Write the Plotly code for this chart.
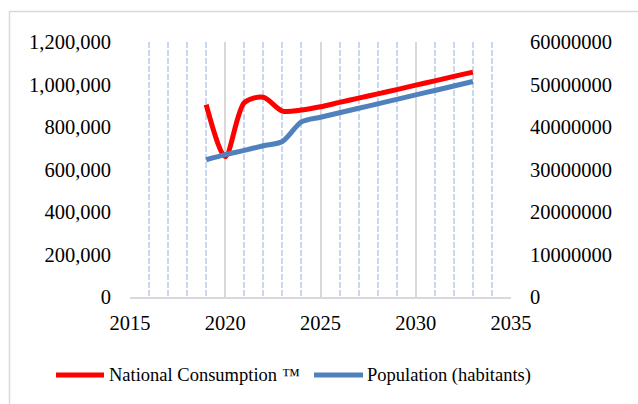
import plotly.graph_objects as go

years = [2019, 2020, 2021, 2022, 2023, 2024, 2025, 2026, 2027, 2028, 2029, 2030, 2031, 2032, 2033]
consumption = [905000, 660000, 915000, 940000, 875000, 880000, 895000, 916000, 936000,
               956000, 976000, 997000, 1017000, 1038000, 1058000]
population = [32300000, 33500000, 34500000, 35600000, 36600000, 41200000, 42300000, 43350000,
              44400000, 45450000, 46500000, 47550000, 48600000, 49650000, 50700000]

left_ticks = [0, 200000, 400000, 600000, 800000, 1000000, 1200000]
left_labels = ["0", "200,000", "400,000", "600,000", "800,000", "1,000,000", "1,200,000"]
right_ticks = [0, 10000000, 20000000, 30000000, 40000000, 50000000, 60000000]
right_labels = [str(v) for v in right_ticks]
x_ticks = [2015, 2020, 2025, 2030, 2035]

series_names = ["National Consumption ™", "Population (habitants)"]
series_colors = ["#ff0000", "#4f81bd"]

FONT = "Liberation Serif"
FS = 20.5
LEG_FS = 18.5

fig = go.Figure()
fig.add_trace(go.Scatter(x=years, y=consumption, name=series_names[0],
                         mode="lines", line=dict(color=series_colors[0], width=5, shape="spline", smoothing=0.8),
                         yaxis="y"))
fig.add_trace(go.Scatter(x=years, y=population, name=series_names[1],
                         mode="lines", line=dict(color=series_colors[1], width=5, shape="spline", smoothing=0.8),
                         yaxis="y2"))

L, R, T, B = 130, 511, 42, 297
W, H = 638, 404

def px(x):
    return (x - L) / (R - L)

def py(y):
    return (B - y) / (B - T)

# manual legend (line samples + text) laid out in pixel positions
legend_items = [(56, 104, 107), (314, 363, 365)]
LEG_Y = 375
shapes = [
    dict(type="line", xref="paper", yref="paper", x0=px(9.5), x1=px(9.5), y0=py(11), y1=py(410),
         line=dict(color="#d9d9d9", width=1.5)),
    dict(type="line", xref="paper", yref="paper", x0=px(9.5), x1=px(645), y0=py(11.5), y1=py(11.5),
         line=dict(color="#d9d9d9", width=1.5)),
]
annotations = []
for (x0, x1, tx), name, color in zip(legend_items, series_names, series_colors):
    shapes.append(dict(type="line", xref="paper", yref="paper", x0=px(x0), x1=px(x1),
                       y0=py(LEG_Y), y1=py(LEG_Y), line=dict(color=color, width=5)))
    annotations.append(dict(xref="paper", yref="paper", x=px(tx), y=py(LEG_Y), text=name,
                            showarrow=False, xanchor="left", yanchor="middle",
                            font=dict(family=FONT, size=LEG_FS, color="#000000")))

fig.update_layout(
    width=W, height=H,
    margin=dict(l=L, r=W - R, t=T, b=H - B, autoexpand=False),
    paper_bgcolor="white", plot_bgcolor="white",
    font=dict(family=FONT, size=FS, color="#000000"),
    showlegend=False,
    xaxis=dict(range=[2015, 2035], tickmode="array", tickvals=x_ticks,
               showgrid=True, gridcolor="#d9d9d9", gridwidth=1.5,
               showline=True, linecolor="#d9d9d9", linewidth=1.5,
               ticks="", zeroline=False, ticklabelstandoff=7, automargin=False,
               minor=dict(dtick=1, tick0=2015, showgrid=True, griddash="6px,2px",
                          gridcolor="#c8d8ee", gridwidth=1.5)),
    yaxis=dict(range=[0, 1200000], tickmode="array", tickvals=left_ticks, ticktext=left_labels,
               showgrid=False, zeroline=False, showline=False, ticks="",
               ticklabelstandoff=18, automargin=False),
    yaxis2=dict(range=[0, 60000000], tickmode="array", tickvals=right_ticks, ticktext=right_labels,
                overlaying="y", side="right", showgrid=False, zeroline=False,
                showline=False, ticks="", ticklabelstandoff=18, automargin=False),
    shapes=shapes,
    annotations=annotations,
)

fig.write_html("out.html", config={"displayModeBar": False},
               post_script="document.body.style.margin='0';document.body.style.padding='0';")
